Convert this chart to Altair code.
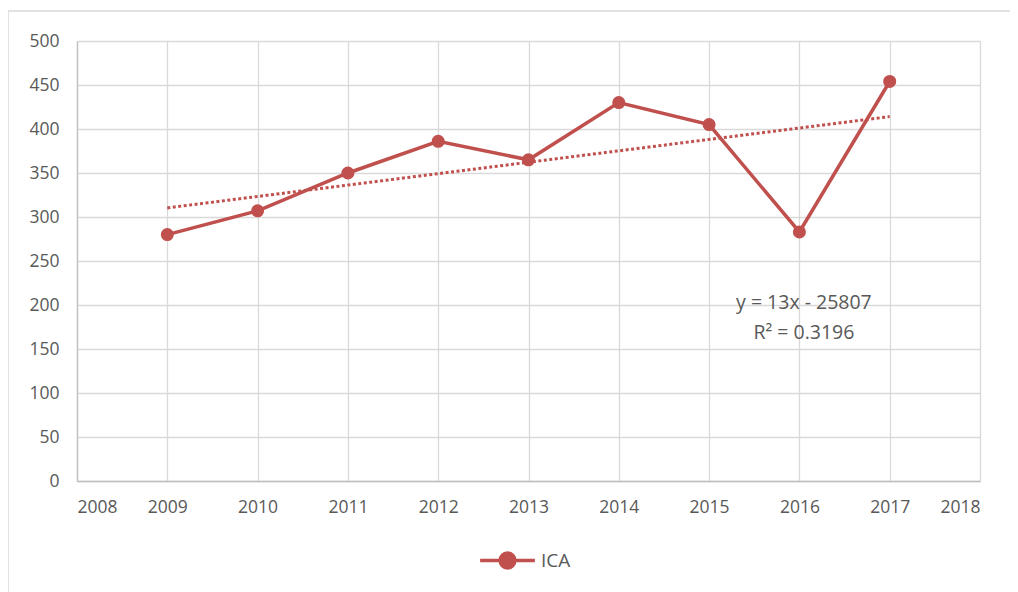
import altair as alt
import pandas as pd
import numpy as np

years = [2009, 2010, 2011, 2012, 2013, 2014, 2015, 2016, 2017]
ica = [280, 307, 350, 386, 365, 430, 405, 283, 454]
series_name = "ICA"
eq_lines = ["y = 13x - 25807", "R² = 0.3196"]
eq_x = [2016.05, 2016.05]
eq_y = [202, 168]

RED = "#c0504d"
GREY = "#595959"
FONT = "Open Sans"

df = pd.DataFrame({"year": years, "value": ica, "series": series_name})
slope, intercept = np.polyfit(years, ica, 1)
trend = pd.DataFrame({"year": [years[0], years[-1]]})
trend["value"] = slope * trend["year"] + intercept
ann = pd.DataFrame({"x": eq_x, "y": eq_y, "text": eq_lines})

xscale = alt.Scale(domain=[2008, 2018], nice=False, zero=False)
yscale = alt.Scale(domain=[0, 500], nice=False)

xaxis = alt.Axis(title=None, values=list(range(2008, 2019)), format="d",
                 labelFontSize=17.5, labelColor=GREY, labelFont=FONT, labelPadding=17,
                 grid=True, gridColor="#d9d9d9", gridWidth=1.3, ticks=False,
                 domainColor="#bfbfbf", domainWidth=1.3)
yaxis = alt.Axis(title=None, values=list(range(0, 501, 50)),
                 labelFontSize=17.5, labelColor=GREY, labelFont=FONT, labelPadding=18,
                 grid=True, gridColor="#d9d9d9", gridWidth=1.3, ticks=False,
                 domainColor="#bfbfbf", domainWidth=1.3)

legend_symbol = ("M-1,0L1,0 M-0.27,0A0.27,0.27 0 1,0 0.27,0"
                 "A0.27,0.27 0 1,0 -0.27,0Z")

base = alt.Chart(df)

line = base.mark_line(strokeWidth=3.5, color=RED).encode(
    x=alt.X("year:Q", scale=xscale, axis=xaxis),
    y=alt.Y("value:Q", scale=yscale, axis=yaxis),
)

points = base.mark_point(filled=True, size=170, opacity=1).encode(
    x="year:Q",
    y="value:Q",
    color=alt.Color("series:N", scale=alt.Scale(range=[RED]),
                    legend=alt.Legend(title=None, orient="none", legendX=401, legendY=490,
                                      symbolType=legend_symbol, symbolSize=3000,
                                      symbolStrokeWidth=3.5, symbolStrokeColor=RED,
                                      symbolFillColor=RED,
                                      labelFontSize=19, labelColor=GREY, labelFont=FONT,
                                      labelOffset=4)),
)

trend_line = alt.Chart(trend).mark_line(color=RED, strokeWidth=3, strokeDash=[3, 2.5]).encode(
    x="year:Q", y="value:Q"
)

text = alt.Chart(ann).mark_text(fontSize=19.5, color=GREY, font=FONT).encode(
    x="x:Q", y="y:Q", text="text:N"
)

border = alt.Chart(pd.DataFrame({"a": [0]})).mark_rect(
    fill=None, stroke="#d9d9d9", strokeWidth=1.5, clip=False
).encode(x=alt.value(-69), x2=alt.value(960), y=alt.value(-30), y2=alt.value(600))

chart = alt.layer(border, trend_line, line, points, text).properties(
    width=903, height=440,
    padding={"left": 69, "top": 33, "right": 30, "bottom": 111},
    autosize=alt.AutoSizeParams(type="none"),
).configure_view(stroke=None)

chart.save("out.html", embed_options={"renderer": "svg", "actions": False})
